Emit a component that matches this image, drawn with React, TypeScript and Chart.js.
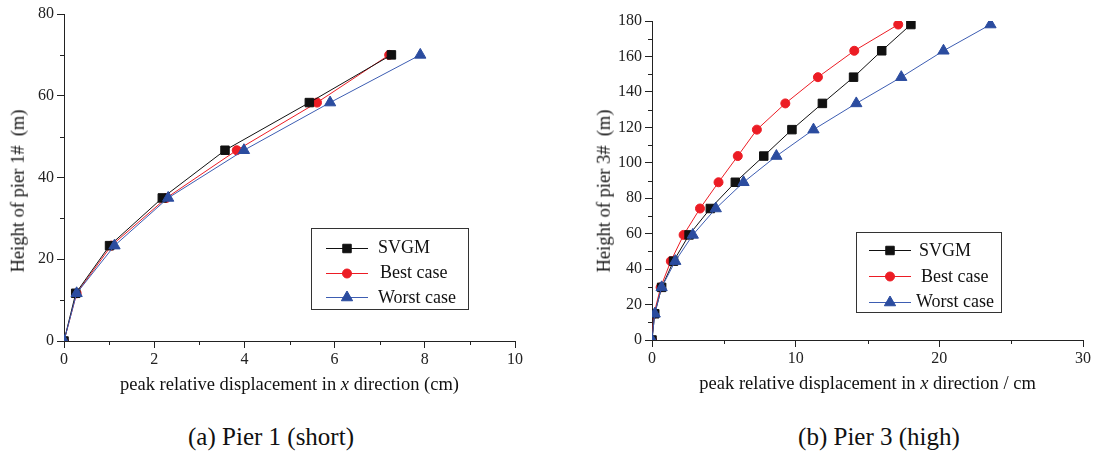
import React, { useEffect, useRef } from 'react';
import { Chart, registerables } from 'chart.js';

Chart.register(...registerables);

// ---------- data ----------
// Pier 1 (short)
const pier1Heights = [0, 11.67, 23.33, 35, 46.67, 58.33, 70];
const pier1SVGM = [0, 0.26, 1.01, 2.18, 3.57, 5.44, 7.26];
const pier1Best = [0, 0.28, 1.05, 2.27, 3.83, 5.61, 7.21];
const pier1Worst = [0, 0.28, 1.12, 2.31, 3.99, 5.9, 7.9];

// Pier 3 (high)
const pier3Heights = [0, 14.8, 29.7, 44.5, 59.3, 74.2, 89, 103.8, 118.7, 133.5, 148.3, 163.2, 178];
const pier3SVGM = [0, 0.19, 0.67, 1.5, 2.58, 4.06, 5.8, 7.78, 9.74, 11.86, 14.03, 15.99, 18.02];
const pier3Best = [0, 0.14, 0.6, 1.31, 2.2, 3.34, 4.63, 5.97, 7.3, 9.28, 11.55, 14.08, 17.14];
const pier3Worst = [0, 0.19, 0.67, 1.62, 2.84, 4.44, 6.37, 8.66, 11.24, 14.22, 17.35, 20.29, 23.56];

const seriesLabels = ['SVGM', 'Best case', 'Worst case'];

const pier1XMinor = [1, 3, 5, 7, 9];
const pier1YMinor = [10, 30, 50, 70];
const pier3XMinor = [5, 15, 25];
const pier3YMinor = [10, 30, 50, 70, 90, 110, 130, 150, 170];

// ---------- styles ----------
const FONT = "'Liberation Serif', 'Times New Roman', serif";
const AXIS = '#222';
const styles = [
  { line: '#111111', fill: '#111111', style: 'rect', radius: 6, order: 1 },
  { line: '#ec1c24', fill: '#ec1c24', style: 'circle', radius: 4.5, order: 2 },
  { line: '#3d5db2', fill: '#2b4c9f', style: 'triangle', radius: 6.5, order: 0 },
];

function drawMarker(ctx: CanvasRenderingContext2D, style: string, x: number, y: number, r: number) {
  ctx.beginPath();
  if (style === 'rect') {
    const s = Math.SQRT1_2 * r;
    ctx.rect(x - s, y - s, 2 * s, 2 * s);
  } else if (style === 'circle') {
    ctx.arc(x, y, r, 0, Math.PI * 2);
  } else {
    let rad = 0;
    ctx.moveTo(x + Math.sin(rad) * r, y - Math.cos(rad) * r);
    rad += (2 * Math.PI) / 3;
    ctx.lineTo(x + Math.sin(rad) * r, y - Math.cos(rad) * r);
    rad += (2 * Math.PI) / 3;
    ctx.lineTo(x + Math.sin(rad) * r, y - Math.cos(rad) * r);
    ctx.closePath();
  }
  ctx.fill();
  ctx.stroke();
}

const minorTicksPlugin = {
  id: 'minorTicks',
  afterDraw(chart: any, _args: any, o: any) {
    const ctx = chart.ctx;
    const xs = chart.scales.x;
    const ys = chart.scales.y;
    ctx.save();
    ctx.strokeStyle = AXIS;
    ctx.lineWidth = 1;
    for (const v of o.x || []) {
      const px = Math.round(xs.getPixelForValue(v)) + 0.5;
      ctx.beginPath();
      ctx.moveTo(px, Math.round(xs.top));
      ctx.lineTo(px, Math.round(xs.top) + 4);
      ctx.stroke();
    }
    for (const v of o.y || []) {
      const py = Math.round(ys.getPixelForValue(v)) + 0.5;
      ctx.beginPath();
      ctx.moveTo(Math.round(ys.right) - 4, py);
      ctx.lineTo(Math.round(ys.right), py);
      ctx.stroke();
    }
    ctx.restore();
  },
};

const boxLegendPlugin = {
  id: 'boxLegend',
  afterDraw(chart: any, _args: any, o: any) {
    const ctx = chart.ctx;
    ctx.save();
    ctx.strokeStyle = '#333';
    ctx.lineWidth = 1;
    ctx.strokeRect(Math.round(o.left) + 0.5, Math.round(o.top) + 0.5, Math.round(o.width), Math.round(o.height));
    chart.data.datasets.forEach((ds: any, i: number) => {
      const y = o.rows[i];
      const st = styles[i];
      ctx.strokeStyle = st.line;
      ctx.lineWidth = 1;
      ctx.beginPath();
      ctx.moveTo(o.lineX1, Math.round(y) + 0.5);
      ctx.lineTo(o.lineX2, Math.round(y) + 0.5);
      ctx.stroke();
      ctx.fillStyle = st.fill;
      ctx.strokeStyle = st.fill;
      drawMarker(ctx, st.style, (o.lineX1 + o.lineX2) / 2, Math.round(y) + 0.5, st.radius);
      ctx.fillStyle = '#111';
      ctx.font = `18px ${FONT}`;
      ctx.textBaseline = 'middle';
      ctx.textAlign = 'left';
      ctx.fillText(ds.label, o.textX[i], y + 1);
    });
    ctx.restore();
  },
};

function makeConfig(p: any): any {
  const datasets = p.series.map((xs: number[], i: number) => ({
    label: seriesLabels[i],
    data: xs.map((x, k) => ({ x, y: p.heights[k] })),
    borderColor: styles[i].line,
    backgroundColor: styles[i].fill,
    pointBackgroundColor: styles[i].fill,
    pointBorderColor: styles[i].fill,
    pointBorderWidth: 1,
    pointStyle: styles[i].style,
    pointRadius: styles[i].radius,
    borderWidth: 1,
    tension: 0,
    order: styles[i].order,
  }));
  const tickFont = { family: FONT, size: 16 };
  return {
    type: 'line',
    data: { datasets },
    plugins: [minorTicksPlugin, boxLegendPlugin],
    options: {
      responsive: false,
      animation: false,
      devicePixelRatio: 1,
      layout: { padding: { left: 0, right: p.padRight, top: p.padTop, bottom: 0 } },
      scales: {
        x: {
          type: 'linear',
          position: 'bottom',
          min: 0,
          max: p.xMax,
          border: { display: true, color: AXIS, width: 1 },
          grid: { display: true, drawOnChartArea: false, drawTicks: true, tickLength: 7, tickColor: AXIS },
          ticks: { stepSize: p.xStep, color: '#222', font: tickFont, padding: 2, maxRotation: 0, autoSkip: false },
          afterFit: (s: any) => { s.height = p.xHeight; },
        },
        y: {
          type: 'linear',
          position: 'left',
          min: 0,
          max: p.yMax,
          border: { display: true, color: AXIS, width: 1 },
          grid: { display: true, drawOnChartArea: false, drawTicks: true, tickLength: 7, tickColor: AXIS },
          ticks: { stepSize: p.yStep, color: '#222', font: tickFont, padding: 3, autoSkip: false },
          afterFit: (s: any) => { s.width = p.yWidth; },
        },
      },
      plugins: {
        legend: { display: false },
        tooltip: { enabled: false },
        minorTicks: { x: p.xMinor, y: p.yMinor },
        boxLegend: p.legend,
      },
    },
  };
}

function ChartCanvas({ config, left, width, height }: any) {
  const ref = useRef<HTMLCanvasElement>(null);
  useEffect(() => {
    const chart = new Chart(ref.current as HTMLCanvasElement, config);
    return () => chart.destroy();
  }, []);
  return (
    <canvas
      ref={ref}
      width={width}
      height={height}
      style={{ position: 'absolute', left, top: 0, width, height }}
    />
  );
}

function Label({ cx, baseline, size, children }: any) {
  return (
    <div
      style={{
        position: 'absolute',
        left: cx,
        top: baseline - 0.8375 * size,
        transform: 'translateX(-50%)',
        fontFamily: FONT,
        fontSize: size,
        lineHeight: `${size}px`,
        whiteSpace: 'pre',
        color: '#111',
      }}
    >
      {children}
    </div>
  );
}

function VLabel({ cx, cy, size, children }: any) {
  return (
    <div
      style={{
        position: 'absolute',
        left: cx,
        top: cy,
        transform: 'translate(-50%, -50%) rotate(-90deg)',
        fontFamily: FONT,
        fontSize: size,
        lineHeight: `${size}px`,
        whiteSpace: 'pre',
        color: '#111',
      }}
    >
      {children}
    </div>
  );
}

const config1 = makeConfig({
  heights: pier1Heights,
  series: [pier1SVGM, pier1Best, pier1Worst],
  xMax: 10, xStep: 2, yMax: 80, yStep: 20,
  xMinor: pier1XMinor, yMinor: pier1YMinor,
  padRight: 33, padTop: 14, xHeight: 59, yWidth: 64,
  legend: {
    left: 311, top: 228, width: 157, height: 81,
    lineX1: 326, lineX2: 368, textX: [378, 380, 378],
    rows: [247.5, 272.5, 297],
  },
});

const config2 = makeConfig({
  heights: pier3Heights,
  series: [pier3SVGM, pier3Best, pier3Worst],
  xMax: 30, xStep: 10, yMax: 180, yStep: 20,
  xMinor: pier3XMinor, yMinor: pier3YMinor,
  padRight: 14, padTop: 21, xHeight: 60, yWidth: 104,
  legend: {
    left: 308, top: 232, width: 145, height: 80,
    lineX1: 321, lineX2: 363, textX: [371, 373, 368],
    rows: [250, 276, 301.5],
  },
});

export default function App() {
  return (
    <div style={{ position: 'fixed', left: 0, top: 0, width: 1097, height: 455, background: '#fff', overflow: 'hidden' }}>
      <ChartCanvas config={config1} left={0} width={548} height={400} />
      <ChartCanvas config={config2} left={548} width={549} height={400} />
      <VLabel cx={17.8} cy={190.6} size={18.5}>{'Height of pier 1#  (m)'}</VLabel>
      <VLabel cx={603.6} cy={191.4} size={18.5}>{'Height of pier 3#  (m)'}</VLabel>
      <Label cx={289.5} baseline={390} size={18.5}>
        peak relative displacement in <i>x</i> direction (cm)
      </Label>
      <Label cx={867.6} baseline={389.7} size={18.5}>
        peak relative displacement in <i>x</i> direction / cm
      </Label>
      <Label cx={271} baseline={445} size={25}>(a) Pier 1 (short)</Label>
      <Label cx={879} baseline={445} size={25}>(b) Pier 3 (high)</Label>
    </div>
  );
}
